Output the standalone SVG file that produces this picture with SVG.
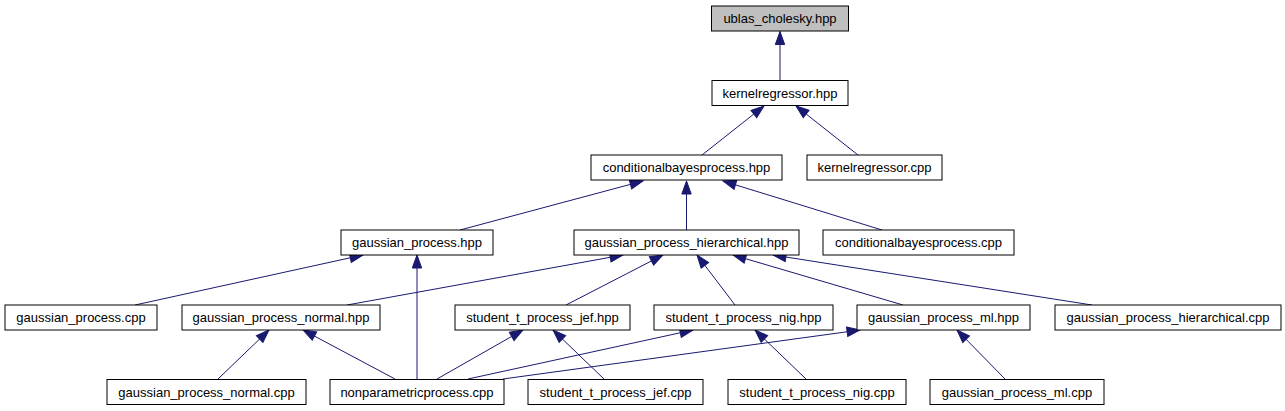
<svg xmlns="http://www.w3.org/2000/svg" width="1285" height="411" viewBox="0 0 1285 411">
<style>
.n rect{fill:#fff;stroke:#000;stroke-width:1}
.n text{font-family:"Liberation Sans",Arial,sans-serif;font-size:13px;fill:#000;text-anchor:middle}
#ublas rect{fill:#bfbfbf}
#edges line{stroke:#191970;stroke-width:1;marker-end:url(#arr)}
</style>
<defs>
<marker id="arr" markerUnits="userSpaceOnUse" markerWidth="16" markerHeight="12" viewBox="-1 -6 16 12" refX="13" refY="0" orient="auto">
<path d="M0,-4.7 L13,0 L0,4.7 Z" fill="#191970" stroke="#191970" stroke-width="1"/>
</marker>
</defs>
<rect width="1285" height="411" fill="#fff"/>
<g id="edges">
<line x1="780" y1="80" x2="780" y2="31.5"/>
<line x1="702" y1="155" x2="764" y2="106"/>
<line x1="858" y1="155" x2="796" y2="106"/>
<line x1="460" y1="230" x2="643" y2="181"/>
<line x1="686.5" y1="230" x2="686.5" y2="181"/>
<line x1="882" y1="230" x2="723" y2="181"/>
<line x1="135" y1="305" x2="363" y2="255"/>
<line x1="417" y1="379" x2="417" y2="255"/>
<line x1="347" y1="305" x2="623" y2="255"/>
<line x1="218" y1="379" x2="269" y2="330"/>
<line x1="395" y1="379" x2="303" y2="330"/>
<line x1="566" y1="305" x2="663" y2="255"/>
<line x1="735" y1="305" x2="697" y2="255"/>
<line x1="903" y1="305" x2="733" y2="255"/>
<line x1="1092" y1="305" x2="773" y2="255"/>
<line x1="437" y1="379" x2="523" y2="330"/>
<line x1="604" y1="379" x2="553" y2="330"/>
<line x1="468" y1="379" x2="693" y2="330"/>
<line x1="503" y1="379" x2="860" y2="330"/>
<line x1="806" y1="379" x2="755" y2="330"/>
<line x1="1005" y1="379" x2="957" y2="330"/>
</g>
<g id="ublas" class="n"><rect x="711.5" y="6" width="137" height="25"/><text x="780" y="23">ublas_cholesky.hpp</text></g>
<g id="kernelregressor_hpp" class="n"><rect x="712" y="80.5" width="136" height="25"/><text x="780" y="97.5">kernelregressor.hpp</text></g>
<g id="conditionalbayesprocess_hpp" class="n"><rect x="591" y="155" width="191" height="25"/><text x="686.5" y="172">conditionalbayesprocess.hpp</text></g>
<g id="kernelregressor_cpp" class="n"><rect x="807" y="155" width="135" height="25"/><text x="874.5" y="172">kernelregressor.cpp</text></g>
<g id="gaussian_process_hpp" class="n"><rect x="341" y="230" width="152" height="25"/><text x="417" y="247">gaussian_process.hpp</text></g>
<g id="gaussian_process_hierarchical_hpp" class="n"><rect x="574" y="230" width="225" height="25"/><text x="686.5" y="247">gaussian_process_hierarchical.hpp</text></g>
<g id="conditionalbayesprocess_cpp" class="n"><rect x="823" y="230" width="191" height="25"/><text x="918.5" y="247">conditionalbayesprocess.cpp</text></g>
<g id="gaussian_process_cpp" class="n"><rect x="5" y="305" width="152" height="25"/><text x="81" y="322">gaussian_process.cpp</text></g>
<g id="gaussian_process_normal_hpp" class="n"><rect x="182" y="305" width="198" height="25"/><text x="281" y="322">gaussian_process_normal.hpp</text></g>
<g id="student_t_process_jef_hpp" class="n"><rect x="455" y="305" width="175" height="25"/><text x="542.5" y="322">student_t_process_jef.hpp</text></g>
<g id="student_t_process_nig_hpp" class="n"><rect x="654" y="305" width="179" height="25"/><text x="743.5" y="322">student_t_process_nig.hpp</text></g>
<g id="gaussian_process_ml_hpp" class="n"><rect x="857" y="305" width="173" height="25"/><text x="943.5" y="322">gaussian_process_ml.hpp</text></g>
<g id="gaussian_process_hierarchical_cpp" class="n"><rect x="1055" y="305" width="226" height="25"/><text x="1168" y="322">gaussian_process_hierarchical.cpp</text></g>
<g id="gaussian_process_normal_cpp" class="n"><rect x="107" y="379.5" width="199" height="25"/><text x="206.5" y="396.5">gaussian_process_normal.cpp</text></g>
<g id="nonparametricprocess_cpp" class="n"><rect x="330" y="379.5" width="174" height="25"/><text x="417" y="396.5">nonparametricprocess.cpp</text></g>
<g id="student_t_process_jef_cpp" class="n"><rect x="528" y="379.5" width="175" height="25"/><text x="615.5" y="396.5">student_t_process_jef.cpp</text></g>
<g id="student_t_process_nig_cpp" class="n"><rect x="728" y="379.5" width="178" height="25"/><text x="817" y="396.5">student_t_process_nig.cpp</text></g>
<g id="gaussian_process_ml_cpp" class="n"><rect x="930" y="379.5" width="174" height="25"/><text x="1017" y="396.5">gaussian_process_ml.cpp</text></g>
</svg>
